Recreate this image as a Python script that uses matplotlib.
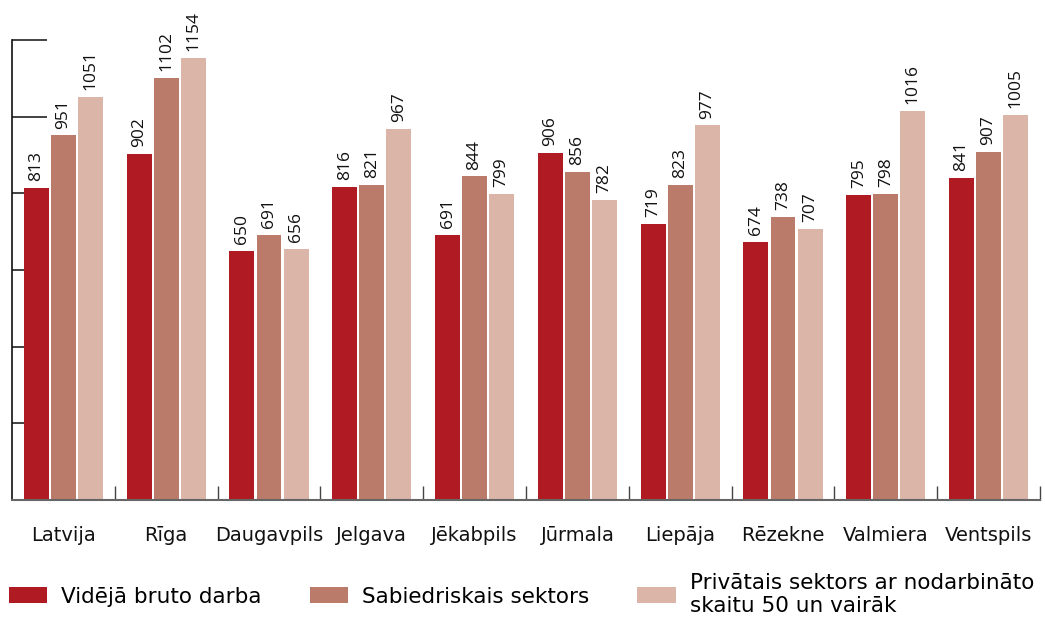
import numpy as np
import matplotlib
matplotlib.use('Agg')
import matplotlib.pyplot as plt

plt.rcParams['font.family'] = ['DejaVu Sans']

cities = ['Latvija', 'Rīga', 'Daugavpils', 'Jelgava', 'Jēkabpils',
          'Jūrmala', 'Liepāja', 'Rēzekne', 'Valmiera', 'Ventspils']
avg_gross = [813, 902, 650, 816, 691, 906, 719, 674, 795, 841]
public_sector = [951, 1102, 691, 821, 844, 856, 823, 738, 798, 907]
private_sector = [1051, 1154, 656, 967, 799, 782, 977, 707, 1016, 1005]

series_labels = ['Vidējā bruto darba',
                 'Sabiedriskais sektors',
                 'Privātais sektors ar nodarbināto\nskaitu 50 un vairāk']
colors = ['#B01A22', '#BA7B6A', '#DBB5A8']

fig = plt.figure(figsize=(10.45, 6.17), dpi=100)
ax = fig.add_axes([12 / 1045, 1 - 500 / 617, 1028 / 1045, 460 / 617])

x = np.arange(len(cities))
width = 0.243
step = 0.263
for i, (vals, col, lab) in enumerate(zip([avg_gross, public_sector, private_sector],
                                         colors, series_labels)):
    pos = x + (i - 1) * step
    ax.bar(pos, vals, width=width, color=col, label=lab, zorder=2)
    for p, v in zip(pos, vals):
        ax.annotate(str(v), (p, v), xytext=(0, 5), textcoords='offset points',
                    rotation=90, ha='center', va='bottom', fontsize=12.5,
                    family=['Open Sans', 'DejaVu Sans'],
                    color='#111111', annotation_clip=False)

ax.set_xlim(-0.5, len(cities) - 0.5)
ax.set_ylim(0, 1200)
ax.set_yticks(np.arange(0, 1201, 200))
ax.set_yticklabels([])
ax.tick_params(axis='y', direction='in', length=25, width=1.2, color='#222222')

ax.set_xticks(x)
ax.set_xticklabels(cities, fontsize=14, color='#111111')
ax.set_xticks(np.arange(0.5, len(cities) - 0.4, 1), minor=True)
ax.tick_params(axis='x', which='major', length=0, pad=19)
ax.tick_params(axis='x', which='minor', direction='in', length=10, width=1, color='#444444')

for s in ['top', 'right']:
    ax.spines[s].set_visible(False)
ax.spines['left'].set_color('#111111')
ax.spines['bottom'].set_color('#666666')
ax.spines['left'].set_linewidth(1.2)
ax.spines['bottom'].set_linewidth(1.5)

ax.legend(loc='upper left', bbox_to_anchor=(-12 / 1028, -0.14), ncol=3,
          frameon=False, fontsize=15.5, handlelength=1.77, handleheight=0.74,
          handletextpad=0.65, columnspacing=2.25, borderaxespad=0,
          labelspacing=0.2)

fig.savefig('out.png', dpi=100)
